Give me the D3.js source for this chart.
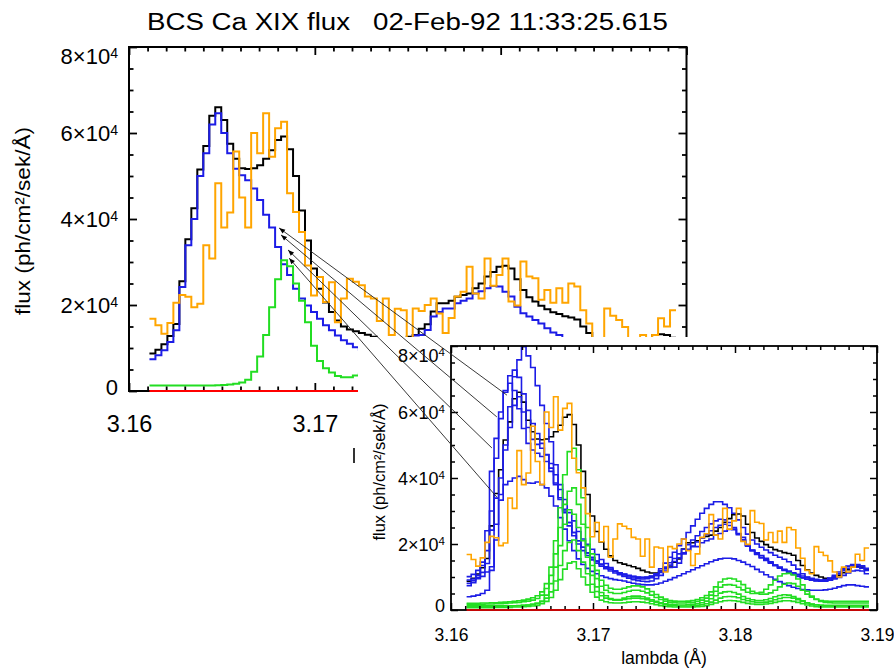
<!DOCTYPE html>
<html><head><meta charset="utf-8">
<script src="https://cdn.jsdelivr.net/npm/d3@7"></script>
<style>
body{margin:0;background:#fff}
svg{display:block}
text{font-family:"Liberation Sans",Arial,Helvetica,sans-serif;fill:#000}
</style>
</head><body>
<svg id="c" width="894" height="668"></svg>
<script>
// ---------------- data (flux in units of 10^3 ph/cm2/sek/Å) ----------------
const titleText = "BCS Ca XIX flux   02-Feb-92 11:33:25.615";
const yTitle = "flux (ph/cm²/sek/Å)";
const xTitle = "lambda (Å)";
const lambdaStart = 3.1611;     // left edge of first spectral bin (Å)
const binWidth = 0.000322;      // bin width (Å)
const xDomain = [3.16, 3.19];
const yDomain = [0, 80];
const xTicks = [3.16, 3.17, 3.18, 3.19];
const xTickLabels = ["3.16", "3.17", "3.18", "3.19"];
const yTicks = [0, 20, 40, 60, 80];
const yTickMantissa = ["0", "2", "4", "6", "8"];

const observed = [16.8,15.3,13.3,15.8,20.5,22.3,21.9,19.5,20.3,33.9,
 30.8,48.3,38.0,41.5,55.7,45.0,38.0,60.0,55.3,64.6,
 54.5,61.1,62.6,46.0,41.6,37.0,29.2,22.2,26.5,20.7,
 25.3,16.0,21.5,26.1,25.4,24.6,22.0,21.5,16.3,21.5,
 13.0,19.1,18.8,11.5,19.2,18.6,20.0,21.5,18.0,13.5,
 17.0,22.0,23.1,28.9,22.7,21.5,30.8,24.5,27.0,30.8,
 20.8,19.9,30.1,26.6,26.2,21.2,23.5,20.5,23.9,20.5,
 25.0,24.3,18.8,15.7,12.0,11.0,19.2,17.5,16.5,14.9,
 11.5,10.0,13.0,11.5,13.0,16.9,15.0,18.8];

const totalFit = [8.7,9.6,10.9,12.8,15.6,25.5,35.3,42.5,51.5,57.0,
 64.0,66.0,63.0,57.5,54.0,51.8,51.6,51.8,52.5,54.0,
 56.0,58.4,59.2,56.2,50.0,42.0,35.0,28.5,23.8,20.6,
 18.4,16.4,15.0,14.3,13.9,13.5,13.1,12.6,12.0,11.5,
 11.2,11.2,11.8,12.6,13.0,14.5,15.5,18.5,20.4,20.4,
 21.0,21.9,22.3,22.7,23.9,25.0,26.6,27.7,28.9,29.1,
 28.5,26.0,23.5,21.8,20.8,19.8,19.0,18.3,17.9,17.4,
 17.1,16.6,15.0,13.5,12.2,11.2,10.5,10.0,9.6,9.5,
 9.8,10.5,11.3,12.2,13.0,13.2,13.0,12.4];

const blueMain = [7.4,8.3,9.5,11.4,14.1,24.2,33.9,40.0,50.0,55.3,
 62.0,64.6,60.0,55.3,51.7,50.2,49.0,47.1,44.4,41.0,
 38.0,33.5,29.5,27.0,23.8,21.5,19.9,18.4,16.8,15.3,
 14.1,12.9,11.8,11.0,10.2,9.6,9.2,8.9,8.7,8.6,
 8.8,9.5,10.5,11.8,12.9,13.0,14.2,17.3,18.4,19.2,
 19.2,20.4,21.0,21.5,22.7,23.2,23.9,24.4,24.3,23.1,
 22.0,19.6,18.1,17.3,16.5,15.7,14.6,13.6,13.0,12.3,
 11.8,11.3,10.8,10.3,9.9,9.6,9.3,9.1,9.0,9.1,
 9.4,9.9,10.5,11.2,11.8,12.0,11.8,11.0];

const greenMain = [1.3,1.3,1.3,1.3,1.3,1.3,1.3,1.3,1.3,1.3,
 1.3,1.35,1.4,1.5,1.7,2.0,2.6,4.5,8.0,13.0,
 19.5,26.0,30.4,29.0,25.0,21.0,16.0,10.5,7.0,5.3,
 4.3,3.5,3.2,3.2,3.6,4.0,4.2,4.2,4.0,3.6,
 3.1,2.6,2.2,1.9,1.7,1.6,1.5,1.5,1.6,1.7,
 1.9,2.2,2.7,3.4,4.3,5.1,5.5,5.6,5.3,4.8,
 4.1,3.5,3.1,2.9,2.9,3.1,3.5,4.0,4.4,4.6,
 4.5,4.1,3.5,2.8,2.2,1.8,1.6,1.5,1.4,1.4,
 1.4,1.4,1.4,1.4,1.4,1.4,1.4,1.4];

const blue1 = [9.1,9.4,9.8,10.2,11.5,13.1,21.2,33.3,48.5,61.6,
 70.7,75.8,79.8,77.0,73.5,68.0,62.0,56.5,51.0,44.0,
 36.5,30.5,26.5,23.5,21.0,19.0,17.3,15.8,14.8,13.9,
 13.1,12.4,11.8,11.3,10.9,10.5,10.2,10.0,9.9,10.0,
 10.3,11.0,12.5,14.2,16.0,17.5,19.5,21.5,23.5,25.5,
 27.5,29.3,30.8,32.0,32.8,32.8,32.0,31.0,29.3,27.3,
 25.0,23.0,21.2,20.0,19.0,18.2,17.4,16.6,16.0,15.4,
 14.6,13.6,12.4,11.0,10.0,9.3,8.9,8.7,8.7,9.0,
 9.8,11.0,12.2,13.2,13.6,13.6,13.4,12.5];

const blue2 = [10.1,10.8,12.0,14.5,18.0,30.0,46.0,58.0,66.0,71.0,
 72.7,70.5,65.5,60.5,56.5,53.5,50.5,47.0,43.0,38.5,
 34.0,30.0,26.5,23.5,21.0,19.0,17.3,16.0,14.8,13.8,
 13.0,12.3,11.7,11.2,10.8,10.4,10.1,9.9,9.8,9.9,
 10.2,10.8,11.8,13.0,14.3,15.6,17.0,18.4,19.8,21.2,
 22.5,23.8,25.0,26.1,27.0,27.5,27.3,26.5,25.0,23.2,
 21.3,19.6,18.2,17.0,16.0,15.2,14.4,13.6,12.9,12.2,
 11.5,10.9,10.3,9.8,9.4,9.1,9.0,9.0,9.2,9.7,
 10.5,11.5,12.5,13.3,13.8,13.8,13.4,12.6];

const blue3 = [8.1,8.9,10.5,13.5,24.0,42.0,52.0,60.0,66.5,68.7,
 66.5,61.0,55.0,50.5,48.5,47.5,46.5,45.0,42.0,38.0,
 33.5,29.5,25.5,22.5,20.0,18.0,16.5,15.2,14.2,13.3,
 12.5,11.8,11.2,10.7,10.3,10.0,9.7,9.5,9.4,9.5,
 9.8,10.4,11.4,12.5,13.6,14.7,15.8,17.0,18.2,19.4,
 20.6,21.8,22.9,24.0,25.0,25.7,26.0,25.6,24.5,22.8,
 21.0,19.3,17.9,16.8,15.8,15.0,14.2,13.4,12.7,12.0,
 11.4,10.8,10.2,9.7,9.3,9.0,8.8,8.8,9.0,9.5,
 10.2,11.0,11.9,12.6,13.0,13.0,12.7,12.0];

const blue4 = [4.0,4.2,4.5,5.0,6.0,12.0,26.0,35.0,38.0,39.0,
 40.0,40.5,39.5,38.5,38.4,38.8,38.0,37.0,34.5,31.5,
 28.0,24.5,21.0,18.0,15.5,13.8,12.6,11.7,11.0,10.4,
 9.9,9.5,9.2,9.0,8.8,8.4,8.1,7.9,7.7,7.6,
 7.6,7.8,8.2,8.7,9.2,9.8,10.4,11.0,11.6,12.2,
 12.8,13.4,14.0,14.6,15.1,15.5,15.7,15.7,15.5,15.0,
 14.5,13.8,13.2,12.3,11.5,10.7,10.0,9.3,8.6,8.0,
 7.4,6.9,6.5,6.2,6.1,6.0,6.0,6.0,6.1,6.3,
 6.6,7.0,7.4,7.6,7.6,7.4,7.2,7.0];

const green1 = [2.0,2.0,2.0,2.1,2.1,2.2,2.2,2.3,2.4,2.5,
 2.6,2.8,3.0,3.3,3.7,4.3,5.5,8.0,13.0,21.0,
 31.0,41.0,48.0,49.0,42.5,34.0,25.0,17.0,12.0,9.0,
 7.5,6.6,6.3,6.3,6.6,7.0,7.3,7.3,7.0,6.4,
 5.6,4.7,3.9,3.3,2.9,2.7,2.6,2.6,2.7,2.9,
 3.2,3.7,4.4,5.5,7.0,8.5,9.4,9.6,9.4,8.7,
 7.7,6.6,5.7,5.1,4.8,4.8,5.2,6.0,7.0,7.8,
 8.2,8.0,7.2,6.0,4.8,3.9,3.3,2.9,2.7,2.6,
 2.6,2.6,2.6,2.6,2.6,2.6,2.6,2.6];

const green2 = [1.7,1.7,1.7,1.7,1.8,1.8,1.9,1.9,2.0,2.1,
 2.2,2.3,2.5,2.7,3.0,3.5,4.5,6.5,10.5,17.0,
 25.0,32.0,36.0,37.0,32.0,26.0,19.5,13.5,9.5,7.2,
 6.0,5.3,5.0,5.0,5.3,5.7,6.0,6.0,5.7,5.2,
 4.5,3.8,3.2,2.7,2.4,2.2,2.1,2.1,2.2,2.3,
 2.6,3.0,3.6,4.5,5.7,6.9,7.6,7.7,7.5,6.9,
 6.1,5.4,5.0,5.0,5.4,6.3,7.6,9.0,10.3,11.0,
 11.1,10.6,9.4,7.6,5.7,4.2,3.2,2.6,2.3,2.2,
 2.1,2.1,2.1,2.1,2.1,2.1,2.1,2.1];

const green3 = [1.0,1.0,1.0,1.0,1.0,1.1,1.1,1.1,1.2,1.2,
 1.3,1.3,1.4,1.5,1.7,2.0,2.6,3.6,5.5,8.8,
 13.5,18.0,20.5,21.2,18.0,14.5,11.0,7.8,5.6,4.3,
 3.6,3.2,3.0,3.0,3.2,3.4,3.6,3.6,3.4,3.1,
 2.7,2.3,1.9,1.6,1.4,1.3,1.2,1.2,1.2,1.3,
 1.4,1.6,1.9,2.4,3.0,3.6,4.0,4.1,4.0,3.7,
 3.2,2.8,2.5,2.3,2.3,2.4,2.7,3.1,3.5,3.8,
 3.8,3.6,3.1,2.6,2.1,1.7,1.5,1.3,1.2,1.2,
 1.2,1.2,1.2,1.2,1.2,1.2,1.2,1.2];

const green4 = [0.7,0.7,0.7,0.7,0.7,0.7,0.8,0.8,0.8,0.8,
 0.9,0.9,1.0,1.1,1.2,1.4,1.9,2.6,3.8,6.0,
 9.2,12.4,14.2,14.6,12.5,10.0,7.6,5.4,3.9,3.0,
 2.5,2.2,2.1,2.1,2.2,2.4,2.5,2.5,2.4,2.2,
 1.9,1.6,1.3,1.1,1.0,0.9,0.9,0.9,0.9,0.9,
 1.0,1.1,1.3,1.7,2.1,2.5,2.8,2.9,2.8,2.6,
 2.3,2.0,1.8,1.7,1.7,1.8,2.0,2.3,2.6,2.8,
 2.8,2.6,2.3,1.9,1.5,1.2,1.0,0.9,0.9,0.9,
 0.9,0.9,0.9,0.9,0.9,0.9,0.9,0.9];

const zeroLine = observed.map(() => 0);

// arrows: from inset (lambda, flux) to main plot (lambda, flux)
const arrowFrom = [[3.16394, 65.1], [3.16323, 58.5], [3.16288, 49.1], [3.16323, 34.2]];
const arrowTo   = [[3.16808, 37.9], [3.16818, 36.3], [3.16856, 32.8], [3.16862, 30.9]];

// ---------------- drawing ----------------
const C = {orange:"#ffa500", black:"#000000", blue:"#1c1ce6", green:"#22dd22", red:"#ff0000"};
const svg = d3.select("#c");
const defs = svg.append("defs");
const nBins = observed.length;
const edges = d3.range(nBins + 1).map(i => lambdaStart + i * binWidth);
const stepPts = vals => vals.map((v, i) => [edges[i], v]).concat([[edges[nBins], vals[nBins - 1]]]);

function drawPanel(p) {
  const g = svg.append("g");
  const x = d3.scaleLinear().domain(xDomain).range([p.left, p.right]);
  const y = d3.scaleLinear().domain(yDomain).range([p.bottom, p.top]);
  defs.append("clipPath").attr("id", "clip" + p.id).append("rect")
    .attr("x", p.left).attr("y", p.top - 1).attr("width", p.right - p.left).attr("height", p.bottom - p.top + 3);
  const line = d3.line().x(d => x(d[0])).y(d => y(d[1])).curve(d3.curveStepAfter);
  const cg = g.append("g").attr("clip-path", `url(#clip${p.id})`);
  p.series.forEach(s => cg.append("path").attr("d", line(stepPts(s.v)))
    .attr("fill", "none").attr("stroke", s.c).attr("stroke-width", p.curveW).attr("stroke-linejoin", "miter"));

  const style = a => { a.select(".domain").remove(); a.selectAll("line").attr("stroke", "#000").attr("stroke-width", p.tickW); };
  const minorX = x.ticks(30).filter(v => !xTicks.some(t => Math.abs(t - v) < 1e-9));
  const minorY = y.ticks(16).filter(v => !yTicks.includes(v));
  // bottom
  const gb = g.append("g").attr("transform", `translate(0,${p.bottom})`);
  gb.append("g").call(d3.axisBottom(x).tickValues(minorX).tickSize(-p.minor).tickSizeOuter(0).tickFormat("")).call(style);
  gb.append("g").call(d3.axisBottom(x).tickValues(xTicks).tickSize(-p.major).tickSizeOuter(0)
      .tickFormat((d, i) => xTickLabels[i])).call(style)
    .call(a => a.selectAll("text").attr("y", p.xLabY).attr("dy", null).attr("font-size", p.xLabSize).attr("fill", "#000"));
  // top
  const gt = g.append("g").attr("transform", `translate(0,${p.top})`);
  gt.append("g").call(d3.axisTop(x).tickValues(minorX).tickSize(-p.minor).tickSizeOuter(0).tickFormat("")).call(style);
  gt.append("g").call(d3.axisTop(x).tickValues(xTicks).tickSize(-p.major).tickSizeOuter(0).tickFormat("")).call(style);
  // left
  const gl = g.append("g").attr("transform", `translate(${p.left},0)`);
  gl.append("g").call(d3.axisLeft(y).tickValues(minorY).tickSize(-p.minor).tickSizeOuter(0).tickFormat("")).call(style);
  gl.append("g").call(d3.axisLeft(y).tickValues(yTicks).tickSize(-p.major).tickSizeOuter(0).tickFormat("")).call(style)
    .call(a => a.selectAll(".tick text").each(function (d, i) {
      const t = d3.select(this).attr("x", -p.yLabPad).attr("dy", "0.36em").attr("font-size", p.yLabSize).attr("fill", "#000");
      if (d === yDomain[1]) t.attr("y", p.topShift);
      if (d === 0) { t.attr("y", p.zeroShift); t.text(yTickMantissa[i]); return; }
      t.append("tspan").text(yTickMantissa[i] + "×10");
      t.append("tspan").attr("dy", "-0.48em").attr("font-size", "0.64em").text("4");
    }));
  // right
  const gr = g.append("g").attr("transform", `translate(${p.right},0)`);
  gr.append("g").call(d3.axisRight(y).tickValues(minorY).tickSize(-p.minor).tickSizeOuter(0).tickFormat("")).call(style);
  gr.append("g").call(d3.axisRight(y).tickValues(yTicks).tickSize(-p.major).tickSizeOuter(0).tickFormat("")).call(style);
  // frame
  g.append("rect").attr("x", p.left).attr("y", p.top).attr("width", p.right - p.left).attr("height", p.bottom - p.top)
    .attr("fill", "none").attr("stroke", "#000").attr("stroke-width", p.frameW);
  // zero line on top
  g.append("path").attr("d", line(stepPts(zeroLine))).attr("fill", "none").attr("stroke", C.red).attr("stroke-width", p.curveW);
  // y title
  g.append("text").attr("transform", `translate(${p.yTitleX},${p.yTitleY}) rotate(-90)`)
    .attr("text-anchor", "middle").attr("font-size", p.yTitleSize)
    .attr("textLength", p.yTitleLen).attr("lengthAdjust", "spacingAndGlyphs").text(yTitle);
  return {x, y};
}

// main panel
const mainP = drawPanel({
  id: "m", left: 129, right: 686.5, top: 47, bottom: 391,
  major: 8, minor: 4.5, tickW: 1.8, frameW: 2, curveW: 2,
  xLabY: 41, xLabSize: 23.5, yLabPad: 11, yLabSize: 22, topShift: 9, zeroShift: -4,
  yTitleX: 30, yTitleY: 221, yTitleSize: 20.5, yTitleLen: 188,
  series: [
    {v: totalFit, c: C.black}, {v: blueMain, c: C.blue}, {v: greenMain, c: C.green}, {v: observed, c: C.orange}
  ]
});

// title
svg.append("text").attr("x", 407.5).attr("y", 30).attr("text-anchor", "middle")
  .attr("xml:space", "preserve").style("white-space", "pre")
  .attr("font-size", 23).attr("textLength", 521).attr("lengthAdjust", "spacingAndGlyphs").text(titleText);

// white backing for the inset
svg.append("rect").attr("x", 358).attr("y", 337).attr("width", 894 - 358).attr("height", 668 - 337).attr("fill", "#fff");

// inset panel
const insetP = drawPanel({
  id: "i", left: 451, right: 877, top: 346, bottom: 610,
  major: 7, minor: 4, tickW: 1.5, frameW: 1.8, curveW: 1.6,
  xLabY: 31, xLabSize: 17.5, yLabPad: 6, yLabSize: 18, topShift: 9, zeroShift: -5,
  yTitleX: 385, yTitleY: 472, yTitleSize: 16.5, yTitleLen: 137,
  series: [
    {v: totalFit, c: C.black},
    {v: blue1, c: C.blue}, {v: blue2, c: C.blue}, {v: blue3, c: C.blue}, {v: blueMain, c: C.blue}, {v: blue4, c: C.blue},
    {v: green1, c: C.green}, {v: green2, c: C.green}, {v: greenMain, c: C.green}, {v: green3, c: C.green}, {v: green4, c: C.green},
    {v: observed, c: C.orange}
  ]
});
svg.append("text").attr("x", 664).attr("y", 664).attr("text-anchor", "middle").attr("font-size", 17.5).text(xTitle);

// small stray mark left of the inset title
svg.append("line").attr("x1", 354).attr("x2", 354).attr("y1", 448).attr("y2", 463).attr("stroke", "#000").attr("stroke-width", 1.6);

// arrows
defs.append("marker").attr("id", "ah").attr("viewBox", "0 0 10 10").attr("refX", 10).attr("refY", 5)
  .attr("markerWidth", 7).attr("markerHeight", 6).attr("markerUnits", "userSpaceOnUse").attr("orient", "auto")
  .append("path").attr("d", "M0,1L10,5L0,9z").attr("fill", "#000");
svg.append("g").selectAll("line").data(arrowFrom).join("line")
  .attr("x1", d => insetP.x(d[0])).attr("y1", d => insetP.y(d[1]))
  .attr("x2", (d, i) => mainP.x(arrowTo[i][0])).attr("y2", (d, i) => mainP.y(arrowTo[i][1]))
  .attr("stroke", "#222").attr("stroke-width", 0.9).attr("marker-end", "url(#ah)");
</script>
</body></html>
